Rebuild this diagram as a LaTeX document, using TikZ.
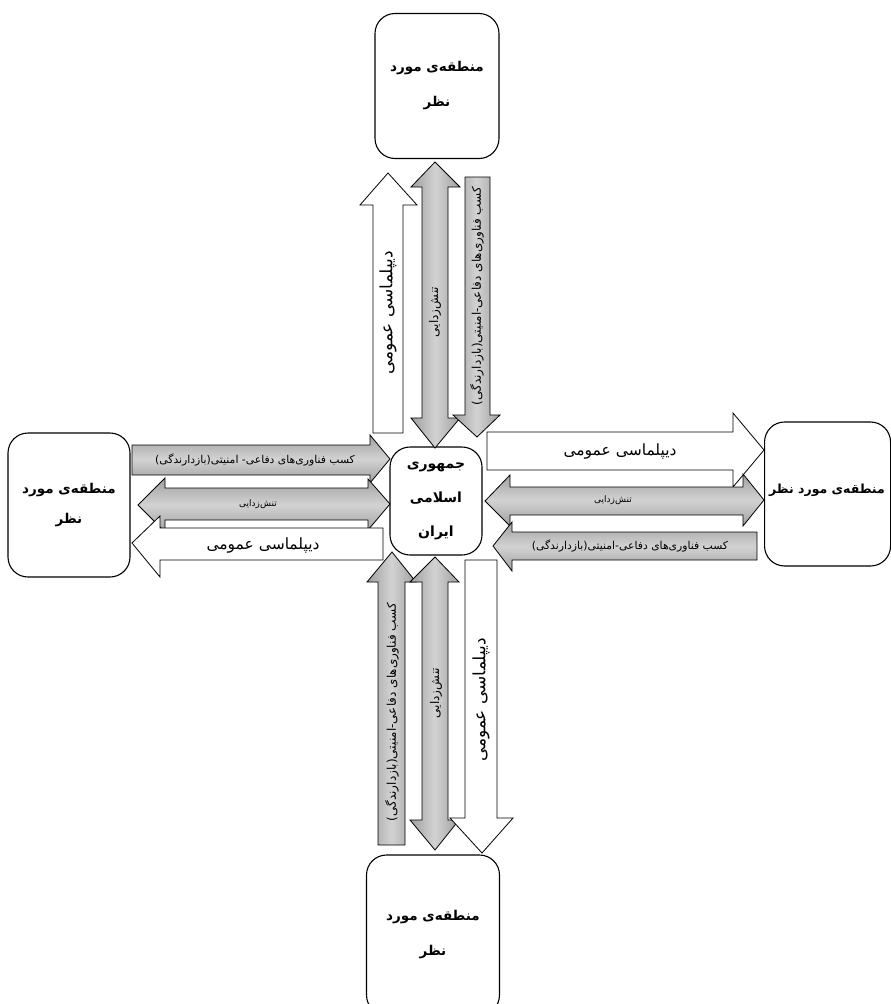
\documentclass[tikz,border=0pt]{standalone}
\usepackage{fontspec}
\setmainfont{DejaVu Sans}
\newfontfamily\fa[Script=Arabic]{DejaVu Sans}
\TeXXeTstate=1
\begin{document}
\begin{tikzpicture}[x=1pt,y=-1pt,
  regionbox/.style={draw, line width=1.1pt, rounded corners=20pt, fill=white, inner sep=0pt, align=center,
     font=\fa\bfseries\fontsize{13.5}{35}\selectfont},
  whitearr/.style={draw, line width=0.8pt, fill=white},
  grayh/.style={draw, line width=0.8pt, top color=gray!75, bottom color=gray!75, middle color=gray!35},
  grayv/.style={draw, line width=0.8pt, left color=gray!75, right color=gray!75, middle color=gray!35},
  biglab/.style={font=\fa\fontsize{15.5}{17}\selectfont, inner sep=0pt},
  bigvlab/.style={font=\fa\fontsize{17}{19}\selectfont, inner sep=0pt},
  smalllab/.style={font=\fa\fontsize{10.8}{12}\selectfont, inner sep=0pt},
  smallvlab/.style={font=\fa\fontsize{12}{13}\selectfont, inner sep=0pt},
  tinylab/.style={font=\fa\fontsize{9}{10}\selectfont, inner sep=0pt}]
\useasboundingbox (0,0) rectangle (891,1004);
\clip (0,0) rectangle (891,1004);

% boxes
\node[regionbox, minimum width=124pt, minimum height=145pt] (topbox) at (437,86)
  {\beginR منطقه‌ی مورد\endR\\\beginR نظر\endR};
\node[regionbox, minimum width=92pt, minimum height=108pt, font=\fa\bfseries\fontsize{14}{34}\selectfont] (center) at (436,501)
  {\beginR جمهوری\endR\\\beginR اسلامی\endR\\\beginR ایران\endR};
\node[regionbox, minimum width=122pt, minimum height=144pt, font=\fa\bfseries\fontsize{13.5}{30}\selectfont] (leftbox) at (69,505)
  {\beginR منطقه‌ی مورد\endR\\\beginR نظر\endR};
\node[regionbox, minimum width=126pt, minimum height=144pt, anchor=west] (rightbox) at (764,494) {};
\node[font=\fa\bfseries\fontsize{12.5}{16}\selectfont] (righttext) at (827,490) {\beginR منطقه‌ی مورد نظر\endR};
\node[regionbox, minimum width=133pt, minimum height=160pt] (bottombox) at (433,935)
  {\beginR منطقه‌ی مورد\endR\\\beginR نظر\endR};

% top arrows
\draw[whitearr] (373,433) -- (373,205) -- (360,205) -- (388,173) -- (417,205) -- (403,205) -- (403,433) -- cycle;
\node[bigvlab, rotate=90] (t1) at (388,313) {\beginR دیپلماسی عمومی\endR};
\draw[grayv] (422,418) -- (422,187) -- (411,187) -- (435,162) -- (460,187) -- (448,187) -- (448,418) -- (460,418) -- (435,448) -- (411,418) -- cycle;
\node[smallvlab, rotate=90] (t2) at (435,312) {\beginR تنش‌زدایی\endR};
\draw[grayv] (465,177) -- (490,177) -- (490,415) -- (500,415) -- (477,437) -- (453,415) -- (465,415) -- cycle;
\node[smallvlab, rotate=90] (t3) at (477,296) {\beginR کسب فناوری‌های دفاعی-امنیتی(بازدارندگی)\endR};

% left arrows
\draw[grayh] (132,445) -- (370,445) -- (370,435) -- (390,459) -- (370,483) -- (370,475) -- (132,475) -- cycle;
\node[smalllab] (l1) at (255,460) {\beginR کسب فناوری‌های دفاعی- امنیتی(بازدارندگی)\endR};
\draw[grayh] (165,488) -- (368,488) -- (368,479) -- (390,504) -- (368,530) -- (368,520) -- (165,520) -- (165,532) -- (138,505) -- (165,478) -- cycle;
\node[tinylab] (l2) at (258,504) {\beginR تنش‌زدایی\endR};
\draw[whitearr] (383,528) -- (160,528) -- (160,516) -- (132,543) -- (160,577) -- (160,560) -- (383,560) -- cycle;
\node[biglab] (l3) at (263,545) {\beginR دیپلماسی عمومی\endR};

% right arrows
\draw[whitearr] (487,432) -- (733,432) -- (733,413) -- (764,450) -- (733,487) -- (733,470) -- (487,470) -- cycle;
\node[biglab] (r1) at (620,451) {\beginR دیپلماسی عمومی\endR};
\draw[grayh] (510,487) -- (743,487) -- (743,474) -- (764,500) -- (743,526) -- (743,515) -- (510,515) -- (510,526) -- (485,501) -- (510,475) -- cycle;
\node[tinylab] (r2) at (613,500) {\beginR تنش‌زدایی\endR};
\draw[grayh] (757,532) -- (512,532) -- (512,522) -- (493,546) -- (512,571) -- (512,560) -- (757,560) -- cycle;
\node[smalllab] (r3) at (630,546) {\beginR کسب فناوری‌های دفاعی-امنیتی(بازدارندگی)\endR};

% bottom arrows
\draw[grayv] (378,845) -- (378,582) -- (367,582) -- (392,552) -- (416,582) -- (405,582) -- (405,845) -- cycle;
\node[smallvlab, rotate=90] (b1) at (392,712) {\beginR کسب فناوری‌های دفاعی-امنیتی(بازدارندگی)\endR};
\draw[grayv] (422,582) -- (410,582) -- (435,557) -- (459,582) -- (448,582) -- (448,820) -- (459,820) -- (435,850) -- (410,820) -- (422,820) -- cycle;
\node[smallvlab, rotate=90] (b2) at (436,693) {\beginR تنش‌زدایی\endR};
\draw[whitearr] (465,560) -- (497,560) -- (497,818) -- (513,818) -- (482,853) -- (450,818) -- (465,818) -- cycle;
\node[bigvlab, rotate=90] (b3) at (481,700) {\beginR دیپلماسی عمومی\endR};
\end{tikzpicture}
\end{document}
